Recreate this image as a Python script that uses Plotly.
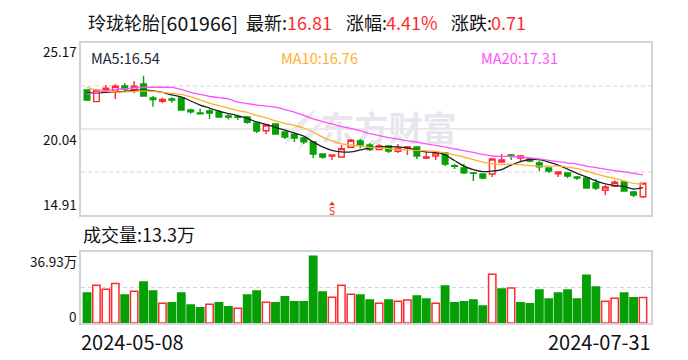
import plotly.graph_objects as go

opens = [22.37,21.67,22.37,22.29,22.61,22.38,22.73,21.89,21.69,21.83,21.89,21.17,20.99,21.11,21.05,20.82,20.77,20.76,20.40,19.94,
         20.34,19.86,19.72,19.50,19.27,18.55,18.43,18.37,18.95,19.33,19.09,18.81,19.03,18.71,18.91,18.97,18.31,18.43,18.61,17.85,
         17.71,17.42,17.36,17.36,18.07,18.49,18.31,18.25,18.01,17.71,17.37,17.42,17.18,17.12,16.82,16.39,16.64,16.88,16.28,16.00]
highs = [22.37,22.37,22.67,22.73,22.77,22.90,23.22,22.01,21.91,21.93,21.89,21.25,21.25,21.22,21.17,20.92,20.87,20.82,20.40,20.28,
         20.37,19.86,19.80,19.56,19.27,18.55,18.49,19.09,19.44,19.44,19.21,19.15,19.03,19.15,19.03,18.97,18.67,18.67,18.67,17.95,
         17.95,17.48,17.36,18.31,18.55,18.55,18.49,18.33,18.15,17.71,17.48,17.42,17.24,17.12,17.06,16.70,16.99,16.88,16.34,16.81]
lows = [21.71,21.67,22.27,21.83,22.29,22.17,21.97,21.37,21.57,21.61,21.17,20.95,20.95,20.64,20.71,20.60,20.58,20.36,19.80,19.74,
        19.74,19.44,19.27,19.15,18.31,18.27,18.19,18.33,18.95,18.89,18.73,18.79,18.61,18.61,18.49,18.25,18.25,18.19,17.83,17.65,
        17.36,16.94,17.04,17.18,18.07,18.19,18.13,18.05,17.53,17.42,17.18,17.12,17.00,16.52,16.40,16.10,16.58,16.34,15.98,15.92]
closes = [21.77,22.37,22.47,22.59,22.43,22.59,22.01,21.79,21.81,21.77,21.17,21.07,20.95,20.99,20.76,20.76,20.74,20.44,19.92,20.28,
          19.74,19.56,19.50,19.27,18.55,18.37,18.49,18.87,19.37,19.09,18.82,19.03,18.73,18.89,18.97,18.43,18.37,18.61,17.95,17.81,
          17.42,17.39,17.12,18.25,18.19,18.45,18.43,18.13,17.79,17.53,17.48,17.24,17.12,16.52,16.52,16.58,16.86,16.34,16.10,16.81]
ma5 = [22.19,22.19,22.22,22.25,22.28,22.34,22.37,22.31,22.22,22.07,21.95,21.71,21.47,21.29,21.11,20.96,20.84,
       20.67,20.46,20.31,20.13,19.98,19.80,19.62,19.27,18.97,18.76,18.67,18.67,18.79,18.91,
       18.97,18.99,18.97,18.91,18.79,18.67,18.64,18.49,18.16,17.83,17.62,17.50,17.53,17.62,17.89,18.10,18.22,18.21,18.07,17.89,
       17.65,17.39,17.18,16.94,16.76,16.67,16.61,16.46,16.54]
ma10 = [22.52,22.37,22.31,22.25,22.25,22.28,22.31,22.28,22.22,22.16,22.10,21.95,21.77,21.59,21.44,21.29,21.14,21.03,20.85,20.70,
        20.52,20.37,20.25,20.10,19.86,19.56,19.33,19.15,19.09,19.03,18.94,18.91,18.87,18.82,18.79,18.76,18.73,18.71,18.61,18.49,
        18.37,18.22,18.07,17.97,17.93,17.95,17.92,17.86,17.83,17.83,17.82,17.77,17.68,17.53,17.36,17.21,17.09,16.94,16.79,16.76]
ma20 = [22.10,22.22,22.31,22.40,22.44,22.49,22.52,22.53,22.53,22.52,22.40,22.22,22.10,21.99,21.91,21.83,21.65,21.56,21.47,21.41,
        21.35,21.20,21.05,20.85,20.64,20.48,20.34,20.19,20.06,19.94,19.77,19.65,19.53,19.44,19.33,19.25,19.15,19.06,18.97,18.85,
        18.75,18.64,18.52,18.43,18.41,18.40,18.37,18.32,18.25,18.17,18.10,18.01,17.95,17.83,17.74,17.65,17.56,17.48,17.39,17.31]
volumes = [15.6,19.6,17.5,20.6,14.6,16.5,21.3,16.7,10.3,10.5,15.6,9.4,7.9,9.8,10.5,8.4,7.7,14.6,16.7,10.8,
           10.5,13.6,11.0,11.0,34.7,16.1,13.4,19.6,14.9,14.6,12.0,10.3,12.0,11.3,11.9,14.1,12.5,10.3,19.2,10.5,
           11.0,12.0,8.9,25.3,17.7,18.2,10.5,10.0,17.2,12.5,15.6,17.2,12.5,24.9,18.7,11.3,12.9,15.6,13.1,13.3]
volume_up_days = [1,2,3,5,8,13,16,19,26,27,28,31,33,34,37,43,45,55,56,59]
signal_day = 26
price_top, price_bottom = 25.17, 14.91
volume_top = 36.93

RED, GREEN, GRID = "#FF2A2F", "#06A006", "#D4D4D8"
CJK = "Noto Sans CJK SC"
W, H = 688, 360
days = list(range(len(closes)))
xr = [-0.64, 59.85]

fig = go.Figure()
fig.add_trace(go.Candlestick(
    x=days, open=opens, high=highs, low=lows, close=closes,
    increasing=dict(line=dict(color=RED, width=1.4), fillcolor="#FFFFFF"),
    decreasing=dict(line=dict(color=GREEN, width=1.4), fillcolor=GREEN),
    xaxis="x", yaxis="y", showlegend=False))
for vals, col in ((ma5, "#222222"), (ma10, "#FFAE30"), (ma20, "#FF50FF")):
    fig.add_trace(go.Scatter(x=days, y=vals, mode="lines", xaxis="x", yaxis="y", showlegend=False,
                             line=dict(color=col, width=1.3, shape="spline", smoothing=0.8)))
up = set(volume_up_days)
fig.add_trace(go.Bar(
    x=days, y=volumes, xaxis="x2", yaxis="y2", width=0.78, showlegend=False,
    marker=dict(color=["#FFFFFF" if d in up else GREEN for d in days],
                line=dict(color=[RED if d in up else GREEN for d in days], width=1.5))))
fig.add_trace(go.Scatter(x=[signal_day], y=[price_bottom + 0.66], mode="markers", xaxis="x", yaxis="y",
                         showlegend=False, marker=dict(symbol="triangle-up", size=5, color=RED)))

def txt(x, y, s, size=14, color="#111111", anchor="left", family=CJK):
    x = x - 2 if anchor == "left" else x + 1.5
    return dict(x=x / W, y=1 - y / H, xref="paper", yref="paper", text=s, showarrow=False,
                xanchor=anchor, yanchor="middle", font=dict(family=family, size=size, color=color))

ann = [
    txt(88, 22, "玲珑轮胎", 18), txt(160, 22, "[601966]", 19.5), txt(246, 22, "最新:", 18), txt(287, 22, "16.81", 18, RED),
    txt(346, 22, "涨幅:", 18), txt(386, 22, "4.41%", 18, RED), txt(451, 22, "涨跌:", 18), txt(491, 22, "0.71", 18, RED),
    txt(91, 57, "MA5:16.54", 14.5, "#1c2533"), txt(281, 57, "MA10:16.76", 14.5, "#FFAE30"), txt(481, 57, "MA20:17.31", 14.5, "#FF50FF"),
    txt(77, 51, "25.17", 13.5, anchor="right"), txt(77, 138.5, "20.04", 13.5, anchor="right"), txt(77, 204, "14.91", 13.5, anchor="right"),
    txt(83, 234, "成交量:13.3万", 18), txt(77, 261, "36.93万", 13.5, anchor="right"), txt(77, 315.5, "0", 13.5, anchor="right"),
    txt(81, 341, "2024-05-08", 20), txt(651, 341, "2024-07-31", 20, anchor="right"),
    dict(x=signal_day, y=price_bottom + 0.22, xref="x", yref="y", text="S", showarrow=False,
         font=dict(family="DejaVu Sans", size=10, color=RED)),
]
pmid = (price_top + price_bottom) / 2
def swoosh(x0, y0, cx, cy, x1, y1, cx2, cy2):
    return dict(type="path", xref="paper", yref="paper", layer="below", line=dict(width=0), fillcolor="#E9E9EE",
                path="M %f %f Q %f %f %f %f Q %f %f %f %f Z" % (
                    x0 / W, 1 - y0 / H, cx / W, 1 - cy / H, x1 / W, 1 - y1 / H, cx2 / W, 1 - cy2 / H, x0 / W, 1 - y0 / H))
shapes = [
    dict(type="line", xref="paper", x0=81 / W, x1=651 / W, yref="y", y0=pmid, y1=pmid,
         line=dict(color=GRID, width=1.2), layer="below"),
    dict(type="line", xref="paper", x0=81 / W, x1=651 / W, yref="y", y0=(price_top + pmid) / 2, y1=(price_top + pmid) / 2,
         line=dict(color=GRID, width=1, dash="4px,3px"), layer="below"),
    dict(type="line", xref="paper", x0=81 / W, x1=651 / W, yref="y", y0=(price_bottom + pmid) / 2, y1=(price_bottom + pmid) / 2,
         line=dict(color=GRID, width=1, dash="4px,3px"), layer="below"),
    dict(type="line", xref="paper", x0=81 / W, x1=651 / W, yref="y2", y0=volume_top / 2, y1=volume_top / 2,
         line=dict(color=GRID, width=1, dash="4px,3px"), layer="below"),
    dict(type="rect", xref="paper", yref="paper", x0=321 / W, x1=456 / W, y0=1 - 150 / H, y1=1 - 112 / H,
         line=dict(width=0), fillcolor="rgba(0,0,0,0)", layer="below",
         label=dict(text="东方财富", font=dict(family=CJK, size=34, color="#E6E6EC", weight="bold"),
                    textposition="middle center")),
    swoosh(284, 146, 296, 118, 316, 110, 304, 128),
    swoosh(298, 150, 306, 128, 322, 122, 314, 138),
]
axis = dict(showgrid=False, zeroline=False, showticklabels=False, ticks="", showline=True, mirror=True,
            linecolor=GRID, linewidth=1.5, fixedrange=True)
fig.update_layout(
    width=W, height=H, margin=dict(l=0, r=0, t=0, b=0), paper_bgcolor="white", plot_bgcolor="rgba(0,0,0,0)",
    showlegend=False, boxgap=0.15, bargap=0.2, annotations=ann, shapes=shapes,
    xaxis=dict(axis, domain=[81 / W, 651 / W], range=xr, rangeslider=dict(visible=False), anchor="y"),
    yaxis=dict(axis, domain=[1 - 215 / H, 1 - 43 / H], range=[price_bottom, price_top], anchor="x"),
    xaxis2=dict(axis, domain=[81 / W, 651 / W], range=xr, anchor="y2"),
    yaxis2=dict(axis, domain=[1 - 323 / H, 1 - 252 / H], range=[0, volume_top], anchor="x2"),
)
fig.write_html("out.html", config=dict(displayModeBar=False),
               post_script="document.body.style.margin='0';document.body.style.overflow='hidden';")
